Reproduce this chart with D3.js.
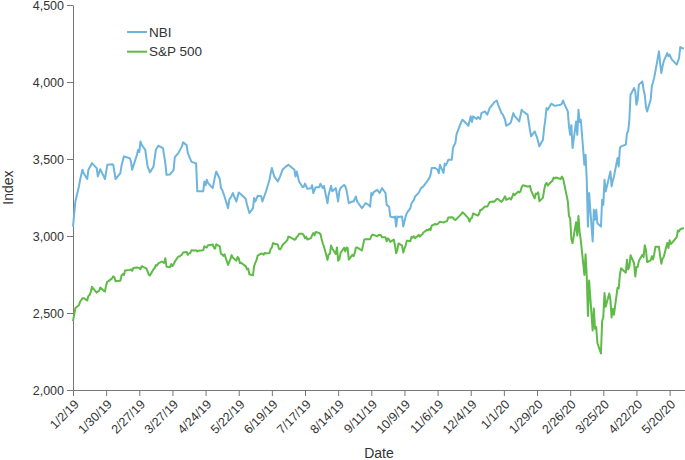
<!DOCTYPE html>
<html>
<head>
<meta charset="utf-8">
<script src="https://cdn.jsdelivr.net/npm/d3@7"></script>
<style>
  body { margin: 0; background: #fff; }
  svg text { font-family: Helvetica, Arial, "Liberation Sans", sans-serif; }
</style>
</head>
<body>
<div class="chart"></div>
<script>
// NBI vs S&P 500 line chart

var seriesNames = ["NBI", "S&P 500"];

var xTickDates = ["1/2/19", "1/30/19", "2/27/19", "3/27/19", "4/24/19", "5/22/19", "6/19/19",
  "7/17/19", "8/14/19", "9/11/19", "10/9/19", "11/6/19", "12/4/19", "1/1/20", "1/29/20",
  "2/26/20", "3/25/20", "4/22/20", "5/20/20"];
var yTicks = [2000, 2500, 3000, 3500, 4000, 4500];

var nbiDates = ["1/2/19","1/4/19","1/7/19","1/8/19","1/10/19","1/11/19","1/14/19","1/15/19","1/18/19","1/22/19",
  "1/23/19","1/25/19","1/28/19","1/29/19","1/31/19","2/4/19","2/5/19","2/7/19","2/11/19","2/12/19",
  "2/14/19","2/19/19","2/20/19","2/21/19","2/25/19","2/26/19","2/27/19","2/28/19","3/1/19","3/4/19",
  "3/6/19","3/8/19","3/11/19","3/13/19","3/15/19","3/19/19","3/21/19","3/22/19","3/25/19","3/28/19",
  "3/29/19","4/1/19","4/4/19","4/5/19","4/8/19","4/9/19","4/12/19","4/15/19","4/16/19","4/17/19",
  "4/22/19","4/23/19","4/24/19","4/25/19","4/26/19","4/30/19","5/2/19","5/3/19","5/6/19","5/7/19",
  "5/8/19","5/10/19","5/13/19","5/14/19","5/16/19","5/17/19","5/20/19","5/22/19","5/24/19","5/28/19",
  "5/29/19","5/31/19","6/3/19","6/4/19","6/5/19","6/7/19","6/10/19","6/11/19","6/14/19","6/17/19",
  "6/18/19","6/19/19","6/21/19","6/24/19","6/26/19","6/28/19","7/1/19","7/3/19","7/8/19","7/9/19",
  "7/10/19","7/12/19","7/15/19","7/16/19","7/17/19","7/19/19","7/22/19","7/23/19","7/24/19","7/26/19",
  "7/29/19","7/30/19","8/1/19","8/2/19","8/5/19","8/6/19","8/8/19","8/9/19","8/12/19","8/14/19",
  "8/15/19","8/16/19","8/19/19","8/20/19","8/21/19","8/23/19","8/26/19","8/27/19","8/28/19","8/29/19",
  "8/30/19","9/3/19","9/4/19","9/6/19","9/9/19","9/10/19","9/11/19","9/12/19","9/13/19","9/16/19",
  "9/18/19","9/20/19","9/23/19","9/24/19","9/26/19","9/27/19","9/30/19","10/1/19","10/2/19","10/3/19",
  "10/4/19","10/7/19","10/8/19","10/10/19","10/11/19","10/14/19","10/15/19","10/17/19","10/18/19","10/21/19",
  "10/23/19","10/25/19","10/28/19","10/30/19","10/31/19","11/1/19","11/4/19","11/6/19","11/7/19","11/8/19",
  "11/11/19","11/12/19","11/13/19","11/14/19","11/15/19","11/18/19","11/19/19","11/20/19","11/21/19","11/22/19",
  "11/25/19","11/26/19","11/27/19","11/29/19","12/2/19","12/4/19","12/5/19","12/6/19","12/9/19","12/10/19",
  "12/12/19","12/13/19","12/16/19","12/18/19","12/20/19","12/23/19","12/24/19","12/26/19","12/27/19","12/30/19",
  "12/31/19","1/2/20","1/3/20","1/6/20","1/7/20","1/9/20","1/10/20","1/14/20","1/16/20","1/17/20",
  "1/21/20","1/22/20","1/23/20","1/24/20","1/27/20","1/29/20","1/31/20","2/3/20","2/4/20","2/5/20",
  "2/6/20","2/7/20","2/10/20","2/12/20","2/13/20","2/18/20","2/19/20","2/20/20","2/21/20","2/24/20",
  "2/25/20","2/26/20","2/27/20","2/28/20","3/2/20","3/3/20","3/4/20","3/5/20","3/6/20","3/9/20",
  "3/10/20","3/11/20","3/12/20","3/13/20","3/16/20","3/17/20","3/18/20","3/19/20","3/20/20","3/23/20",
  "3/24/20","3/25/20","3/26/20","3/27/20","3/30/20","3/31/20","4/1/20","4/2/20","4/3/20","4/6/20",
  "4/7/20","4/8/20","4/9/20","4/13/20","4/14/20","4/15/20","4/16/20","4/17/20","4/20/20","4/21/20",
  "4/22/20","4/23/20","4/24/20","4/27/20","4/28/20","4/29/20","4/30/20","5/1/20","5/4/20","5/5/20",
  "5/6/20","5/7/20","5/8/20","5/11/20","5/12/20","5/13/20","5/14/20","5/15/20","5/18/20","5/19/20",
  "5/20/20","5/21/20","5/22/20","5/26/20","5/27/20","5/28/20","5/29/20","6/1/20"];
var nbiValues = [3061,3224,3322,3365,3430,3408,3370,3430,3473,3441,
  3387,3434,3387,3370,3462,3466,3462,3370,3408,3457,
  3517,3505,3483,3430,3527,3560,3545,3614,3592,3560,
  3452,3413,3450,3560,3586,3571,3473,3397,3400,3430,
  3512,3538,3582,3608,3590,3538,3483,3473,3473,3290,
  3290,3354,3330,3365,3345,3311,3387,3419,3370,3311,
  3300,3257,3181,3235,3260,3279,3224,3283,3270,3240,
  3203,3149,3180,3246,3224,3261,3258,3224,3289,3365,
  3408,3441,3387,3354,3387,3430,3452,3462,3430,3387,
  3419,3354,3317,3320,3340,3306,3310,3330,3279,3317,
  3317,3339,3311,3325,3213,3270,3326,3290,3311,3224,
  3290,3311,3332,3322,3300,3213,3224,3224,3240,3257,
  3224,3181,3190,3213,3200,3190,3279,3265,3285,3300,
  3279,3311,3279,3202,3190,3127,3120,3127,3061,3127,
  3123,3127,3061,3127,3149,3181,3213,3235,3257,3280,
  3311,3322,3354,3376,3397,3441,3441,3430,3408,3462,
  3410,3470,3460,3475,3495,3495,3571,3590,3603,3660,
  3722,3740,3755,3740,3716,3777,3740,3777,3760,3773,
  3760,3798,3809,3788,3831,3859,3870,3880,3855,3798,
  3790,3755,3716,3730,3740,3798,3780,3744,3820,3810,
  3788,3740,3690,3647,3679,3640,3582,3625,3700,3755,
  3831,3820,3859,3850,3845,3852,3859,3880,3860,3809,
  3711,3657,3720,3571,3744,3657,3820,3740,3755,3462,
  3527,3365,3061,3279,2964,3170,3105,3170,3083,3061,
  3235,3202,3365,3289,3387,3419,3322,3360,3387,3506,
  3452,3571,3582,3593,3668,3680,3755,3917,3961,3939,
  3852,3885,3983,4004,3950,3917,3841,3809,3885,3972,
  3998,4030,4069,4199,4123,4058,4100,4134,4188,4167,
  4178,4160,4145,4113,4134,4156,4227,4215];

var spDates = ["1/2/19","1/3/19","1/4/19","1/7/19","1/8/19","1/9/19","1/10/19","1/11/19","1/14/19","1/15/19",
  "1/16/19","1/17/19","1/18/19","1/22/19","1/23/19","1/24/19","1/25/19","1/28/19","1/29/19","1/30/19",
  "1/31/19","2/1/19","2/4/19","2/5/19","2/6/19","2/7/19","2/8/19","2/11/19","2/12/19","2/13/19",
  "2/14/19","2/15/19","2/19/19","2/20/19","2/21/19","2/22/19","2/25/19","2/26/19","2/27/19","2/28/19",
  "3/1/19","3/4/19","3/5/19","3/6/19","3/7/19","3/8/19","3/11/19","3/12/19","3/13/19","3/14/19",
  "3/15/19","3/18/19","3/19/19","3/20/19","3/21/19","3/22/19","3/25/19","3/26/19","3/27/19","3/28/19",
  "3/29/19","4/1/19","4/2/19","4/3/19","4/4/19","4/5/19","4/8/19","4/9/19","4/10/19","4/11/19",
  "4/12/19","4/15/19","4/16/19","4/17/19","4/18/19","4/22/19","4/23/19","4/24/19","4/25/19","4/26/19",
  "4/29/19","4/30/19","5/1/19","5/2/19","5/3/19","5/6/19","5/7/19","5/8/19","5/9/19","5/10/19",
  "5/13/19","5/14/19","5/15/19","5/16/19","5/17/19","5/20/19","5/21/19","5/22/19","5/23/19","5/24/19",
  "5/28/19","5/29/19","5/30/19","5/31/19","6/3/19","6/4/19","6/5/19","6/6/19","6/7/19","6/10/19",
  "6/11/19","6/12/19","6/13/19","6/14/19","6/17/19","6/18/19","6/19/19","6/20/19","6/21/19","6/24/19",
  "6/25/19","6/26/19","6/27/19","6/28/19","7/1/19","7/2/19","7/3/19","7/5/19","7/8/19","7/9/19",
  "7/10/19","7/11/19","7/12/19","7/15/19","7/16/19","7/17/19","7/18/19","7/19/19","7/22/19","7/23/19",
  "7/24/19","7/25/19","7/26/19","7/29/19","7/30/19","7/31/19","8/1/19","8/2/19","8/5/19","8/6/19",
  "8/7/19","8/8/19","8/9/19","8/12/19","8/13/19","8/14/19","8/15/19","8/16/19","8/19/19","8/20/19",
  "8/21/19","8/22/19","8/23/19","8/26/19","8/27/19","8/28/19","8/29/19","8/30/19","9/3/19","9/4/19",
  "9/5/19","9/6/19","9/9/19","9/10/19","9/11/19","9/12/19","9/13/19","9/16/19","9/17/19","9/18/19",
  "9/19/19","9/20/19","9/23/19","9/24/19","9/25/19","9/26/19","9/27/19","9/30/19","10/1/19","10/2/19",
  "10/3/19","10/4/19","10/7/19","10/8/19","10/9/19","10/10/19","10/11/19","10/14/19","10/15/19","10/16/19",
  "10/17/19","10/18/19","10/21/19","10/22/19","10/23/19","10/24/19","10/25/19","10/28/19","10/29/19","10/30/19",
  "10/31/19","11/1/19","11/4/19","11/5/19","11/6/19","11/7/19","11/8/19","11/11/19","11/12/19","11/13/19",
  "11/14/19","11/15/19","11/18/19","11/19/19","11/20/19","11/21/19","11/22/19","11/25/19","11/26/19","11/27/19",
  "11/29/19","12/2/19","12/3/19","12/4/19","12/5/19","12/6/19","12/9/19","12/10/19","12/11/19","12/12/19",
  "12/13/19","12/16/19","12/17/19","12/18/19","12/19/19","12/20/19","12/23/19","12/24/19","12/26/19","12/27/19",
  "12/30/19","12/31/19","1/2/20","1/3/20","1/6/20","1/7/20","1/8/20","1/9/20","1/10/20","1/13/20",
  "1/14/20","1/15/20","1/16/20","1/17/20","1/21/20","1/22/20","1/23/20","1/24/20","1/27/20","1/28/20",
  "1/29/20","1/30/20","1/31/20","2/3/20","2/4/20","2/5/20","2/6/20","2/7/20","2/10/20","2/11/20",
  "2/12/20","2/13/20","2/14/20","2/18/20","2/19/20","2/20/20","2/21/20","2/24/20","2/25/20","2/26/20",
  "2/27/20","2/28/20","3/2/20","3/3/20","3/4/20","3/5/20","3/6/20","3/9/20","3/10/20","3/11/20",
  "3/12/20","3/13/20","3/16/20","3/17/20","3/18/20","3/19/20","3/20/20","3/23/20","3/24/20","3/25/20",
  "3/26/20","3/27/20","3/30/20","3/31/20","4/1/20","4/2/20","4/3/20","4/6/20","4/7/20","4/8/20",
  "4/9/20","4/13/20","4/14/20","4/15/20","4/16/20","4/17/20","4/20/20","4/21/20","4/22/20","4/23/20",
  "4/24/20","4/27/20","4/28/20","4/29/20","4/30/20","5/1/20","5/4/20","5/5/20","5/6/20","5/7/20",
  "5/8/20","5/11/20","5/12/20","5/13/20","5/14/20","5/15/20","5/18/20","5/19/20","5/20/20","5/21/20",
  "5/22/20","5/26/20","5/27/20","5/28/20","5/29/20","6/1/20"];
var spValues = [2447,2490,2532,2550,2574,2584,2596,2596,2582,2610,
  2616,2636,2670,2633,2639,2643,2665,2644,2640,2681,
  2704,2707,2725,2738,2732,2706,2708,2709,2744,2753,
  2746,2776,2780,2784,2774,2793,2796,2794,2793,2784,
  2804,2793,2789,2771,2749,2743,2784,2792,2811,2809,
  2822,2833,2832,2824,2855,2801,2798,2818,2805,2815,
  2834,2867,2867,2873,2879,2893,2896,2878,2888,2888,
  2907,2906,2907,2900,2905,2907,2934,2927,2926,2940,
  2943,2946,2924,2918,2946,2932,2884,2880,2871,2881,
  2812,2834,2850,2876,2860,2840,2864,2856,2823,2826,
  2803,2783,2788,2752,2744,2804,2826,2843,2873,2886,
  2885,2879,2891,2887,2889,2917,2926,2954,2950,2945,
  2917,2913,2924,2942,2964,2973,2996,2990,2976,2979,
  2993,3000,3014,3014,3004,2985,2995,2977,2986,3005,
  3019,3004,3026,3020,3013,2980,2953,2932,2845,2881,
  2884,2938,2919,2883,2926,2840,2848,2889,2924,2900,
  2925,2922,2847,2878,2869,2888,2924,2926,2906,2938,
  2976,2979,2979,2979,3000,3009,3007,2998,3006,3006,
  3006,2992,2992,2966,2984,2977,2962,2977,2940,2888,
  2910,2952,2938,2893,2919,2938,2970,2966,2995,2990,
  2998,2986,3007,2996,3005,3010,3023,3040,3037,3047,
  3038,3067,3078,3075,3077,3085,3093,3087,3092,3094,
  3097,3120,3122,3120,3108,3104,3111,3134,3141,3154,
  3141,3114,3093,3113,3117,3146,3136,3133,3142,3169,
  3169,3191,3192,3191,3205,3221,3224,3223,3240,3240,
  3221,3231,3258,3235,3246,3237,3253,3275,3265,3288,
  3283,3289,3317,3330,3321,3321,3326,3295,3244,3276,
  3273,3284,3226,3249,3298,3334,3345,3328,3352,3358,
  3379,3374,3380,3370,3386,3373,3338,3226,3128,3116,
  2979,2954,3090,3003,3130,3024,2972,2747,2882,2741,
  2481,2711,2386,2529,2398,2409,2305,2237,2447,2476,
  2630,2541,2627,2585,2471,2527,2489,2664,2659,2750,
  2790,2762,2846,2784,2800,2875,2823,2737,2799,2798,
  2837,2878,2863,2940,2912,2831,2842,2868,2848,2882,
  2930,2930,2870,2820,2852,2864,2954,2922,2972,2949,
  2955,2992,3036,3030,3044,3052];

var colors = ["#6db5dd", "#5fbb47"];

//Set size and margins for chart
var svgwidth = 685;
var svgheight = 460;

var margin = { top: 5, right: 0, bottom: 70, left: 73 };

var width = svgwidth - margin.left - margin.right;
var height = svgheight - margin.top - margin.bottom;

var svg = d3.select(".chart")
  .append("svg")
  .attr("width", svgwidth)
  .attr("height", svgheight);

var chartGroup = svg.append("g")
  .attr("transform", `translate(${margin.left}, ${margin.top})`);

var parseDate = d3.timeParse("%m/%d/%y");
var fmtDate = d3.timeFormat("%-m/%-d/%y");

var nbiData = nbiDates.map((d, i) => ({ date: parseDate(d), value: nbiValues[i] }));
var spData = spDates.map((d, i) => ({ date: parseDate(d), value: spValues[i] }));

var xScale = d3.scaleTime()
  .domain([parseDate("1/2/19"), parseDate("6/2/20")])
  .range([0, width]);

var yScale = d3.scaleLinear()
  .domain([2000, 4500])
  .range([height, 0]);

//Axes
var bottomAxis = d3.axisBottom(xScale)
  .tickValues(xTickDates.map(parseDate))
  .tickFormat(fmtDate)
  .tickSizeOuter(0);

var leftAxis = d3.axisLeft(yScale)
  .tickValues(yTicks)
  .tickFormat(d3.format(","))
  .tickSizeOuter(0);

var xAxisG = chartGroup.append("g")
  .attr("transform", `translate(0, ${height})`)
  .call(bottomAxis);

xAxisG.selectAll("text")
  .attr("text-anchor", "end")
  .attr("y", 0)
  .attr("dy", "0.35em")
  .attr("transform", "translate(3, 12) rotate(-45)");

var yAxisG = chartGroup.append("g")
  .call(leftAxis);

[xAxisG, yAxisG].forEach(function(g) {
  g.selectAll("path, line").attr("stroke", "#777");
  g.selectAll("text").attr("fill", "#333").attr("font-size", "12.5px");
});

//Lines
var line = d3.line()
  .x(d => xScale(d.date))
  .y(d => yScale(d.value));

[nbiData, spData].forEach(function(data, i) {
  chartGroup.append("path")
    .datum(data)
    .attr("fill", "none")
    .attr("stroke", colors[i])
    .attr("stroke-width", 2)
    .attr("stroke-linejoin", "round")
    .attr("d", line);
});

//Legend
var legend = chartGroup.selectAll(".legend")
  .data(seriesNames)
  .enter()
  .append("g")
  .attr("transform", (d, i) => `translate(54, ${27 + i * 19.7})`);

legend.append("line")
  .attr("x1", 0).attr("x2", 20)
  .attr("stroke", (d, i) => colors[i])
  .attr("stroke-width", 2);

legend.append("text")
  .attr("x", 22)
  .attr("dy", "0.35em")
  .attr("font-size", "13.5px")
  .attr("fill", "#333")
  .text(d => d);

//Axis labels
chartGroup.append("text")
  .attr("transform", "rotate(-90)")
  .attr("x", 0 - (height / 2) + 10)
  .attr("y", 0 - margin.left + 13)
  .attr("text-anchor", "middle")
  .attr("font-size", "14px")
  .attr("fill", "#333")
  .text("Index");

chartGroup.append("text")
  .attr("x", width / 2)
  .attr("y", height + 68)
  .attr("text-anchor", "middle")
  .attr("font-size", "14px")
  .attr("fill", "#333")
  .text("Date");
</script>
</body>
</html>
